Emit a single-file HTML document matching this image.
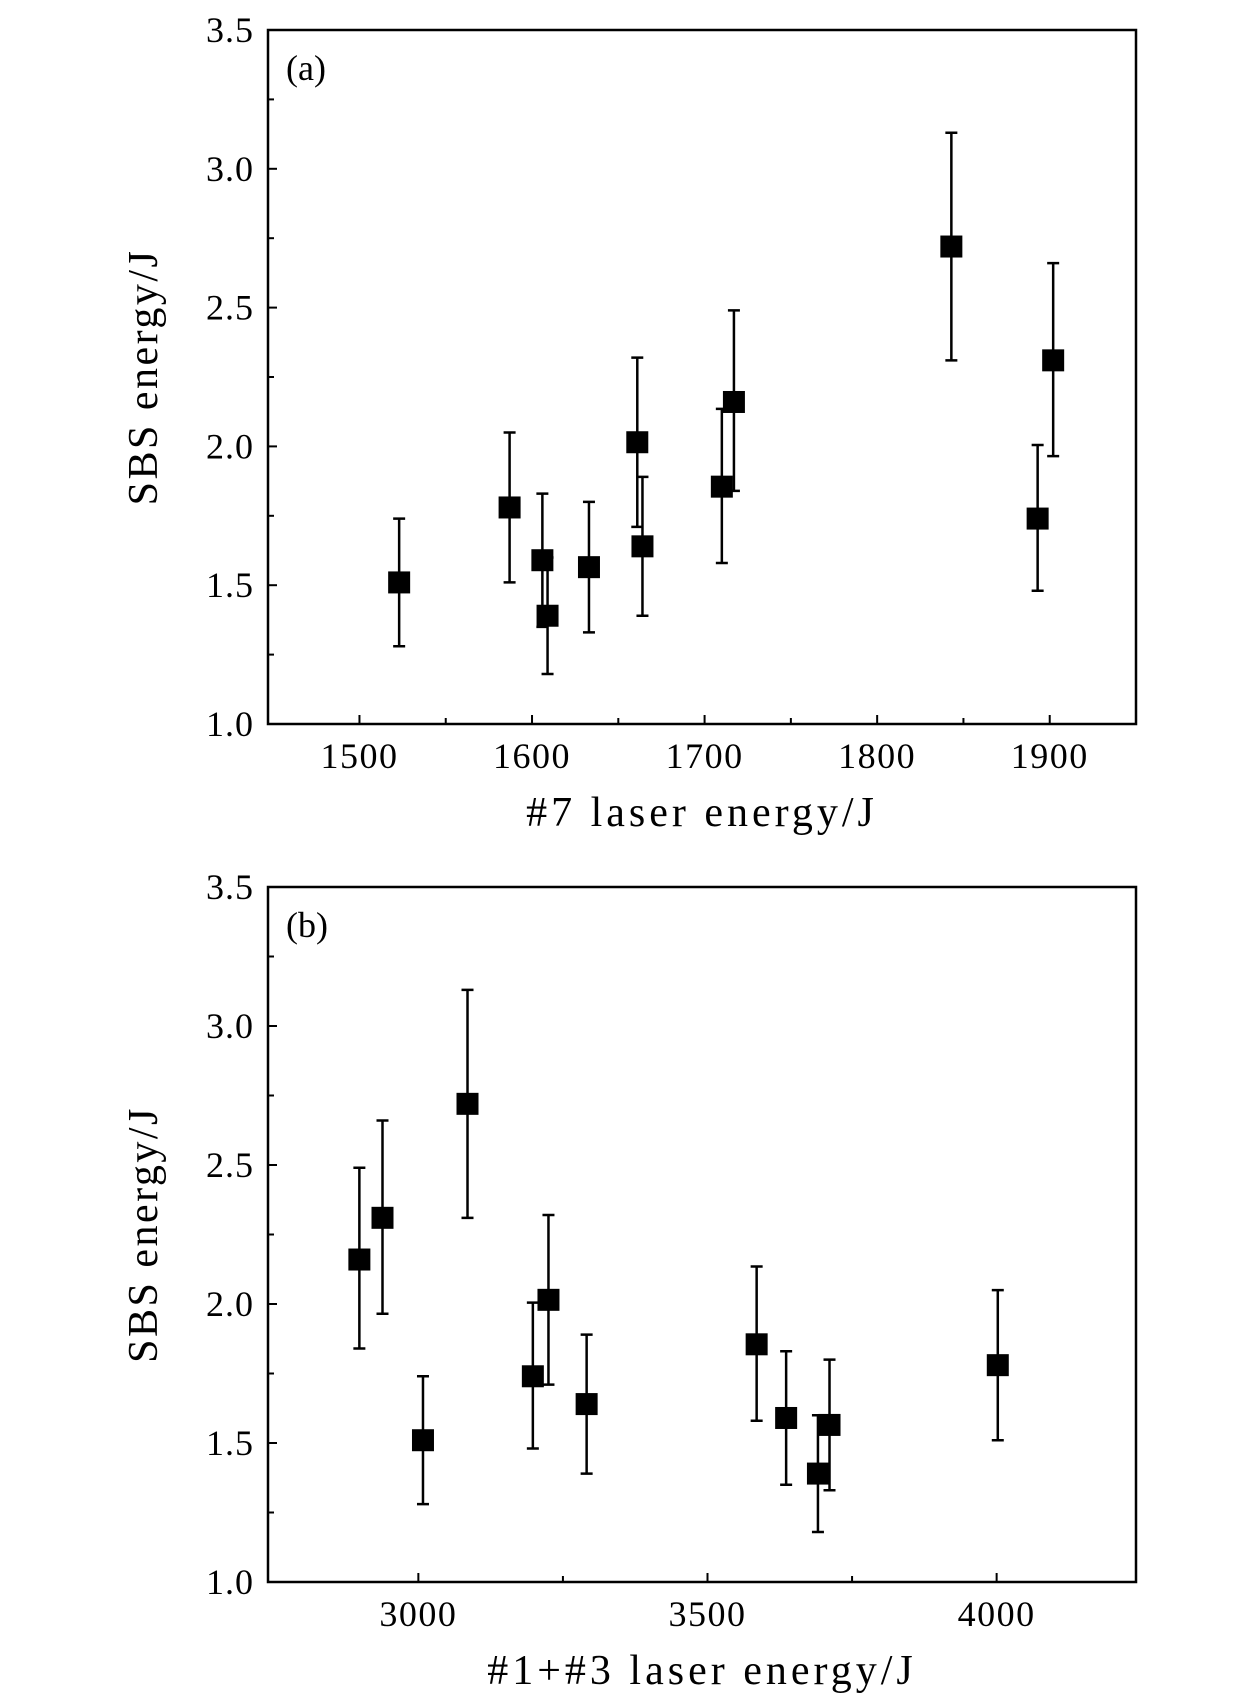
<!DOCTYPE html>
<html><head><meta charset="utf-8"><style>
html,body{margin:0;padding:0;background:#fff}
svg{display:block}
text{font-family:"Liberation Serif","DejaVu Serif",serif;fill:#000}
</style></head><body>
<svg id="chart" width="1260" height="1701" viewBox="0 0 1260 1701" xmlns="http://www.w3.org/2000/svg"></svg>
<script>
const yTicks=[1.0,1.5,2.0,2.5,3.0,3.5];
const yTickLabels=["1.0","1.5","2.0","2.5","3.0","3.5"];
const sbsValues=[1.51,1.78,1.59,1.39,1.565,2.015,1.64,1.855,2.16,2.72,1.74,2.31];
const errLow=[1.28,1.51,1.35,1.18,1.33,1.71,1.39,1.58,1.84,2.31,1.48,1.965];
const errHigh=[1.74,2.05,1.83,1.60,1.80,2.32,1.89,2.135,2.49,3.13,2.005,2.66];
const laser7=[1523,1587,1606,1609,1633,1661,1664,1710,1717,1843,1893,1902];
const xTicksA=[1500,1600,1700,1800,1900];
const xTickLabelsA=["1500","1600","1700","1800","1900"];
const laser13=[3008,4002,3636,3691,3711,3225,3291,3585,2898,3085,3198,2938];
const xTicksB=[3000,3500,4000];
const xTickLabelsB=["3000","3500","4000"];

const svg=document.getElementById('chart');
const NS='http://www.w3.org/2000/svg';
function mk(tag,attrs,parent){const e=document.createElementNS(NS,tag);for(const k in attrs)e.setAttribute(k,attrs[k]);(parent||svg).appendChild(e);return e;}

function panel(cfg){
  const g=mk('g',{});
  
  
  const L=268,R=1136,T=cfg.top,B=cfg.bottom;
  const xs=v=>L+(v-cfg.xmin)/(cfg.xmax-cfg.xmin)*(R-L);
  const ys=v=>B-(v-1.0)/(3.5-1.0)*(B-T);
  const frame=mk('rect',{x:L,y:T,width:R-L,height:B-T,fill:'none',stroke:'#000','stroke-width':2.5},g);
  
  
  for(let v=1.0;v<=3.5001;v+=0.25){
    const major=Math.abs(v*2-Math.round(v*2))<1e-6;
    const t=mk('line',{x1:L,x2:L+(major?9:6),y1:ys(v),y2:ys(v),stroke:'#000','stroke-width':2},g);
    
    
  }
  yTicks.forEach((v,i)=>{
    const t=mk('text',{x:254,y:ys(v)+12,'font-size':36,'letter-spacing':1,'text-anchor':'end'},g);
    t.textContent=yTickLabels[i];
    
    
  });
  for(let v=Math.ceil(cfg.xmin/cfg.minor)*cfg.minor;v<=cfg.xmax;v+=cfg.minor){
    const px=xs(v);
    if(px<L+8||px>R-8)continue;
    const major=cfg.ticks.includes(v);
    const t=mk('line',{x1:px,x2:px,y1:B,y2:B-(major?9:6),stroke:'#000','stroke-width':2},g);
    
    
  }
  cfg.ticks.forEach((v,i)=>{
    const t=mk('text',{x:xs(v),y:B+44,'font-size':36,'letter-spacing':1.5,'text-anchor':'middle'},g);
    t.textContent=cfg.tickLabels[i];
    
    
  });
  const xt=mk('text',{x:(L+R)/2,y:B+102,'font-size':42,'letter-spacing':4,'text-anchor':'middle'},g);
  xt.textContent=cfg.xtitle;
  
  
  const cy=(T+B)/2;
  const yt=mk('text',{x:157,y:cy,'font-size':42,'letter-spacing':2.5,'text-anchor':'middle',transform:`rotate(-90 157 ${cy})`},g);
  yt.textContent='SBS energy/J';
  
  
  const pl=mk('text',{x:286,y:T+50,'font-size':36},g);
  pl.textContent=cfg.label;
  
  
  cfg.xs.forEach((xv,i)=>{
    const px=xs(xv);
    const pg=mk('g',{},g);
    
    
    const eb=mk('path',{d:`M${px},${ys(errLow[i])}V${ys(errHigh[i])}M${px-6},${ys(errLow[i])}H${px+6}M${px-6},${ys(errHigh[i])}H${px+6}`,stroke:'#000','stroke-width':2.5,fill:'none'},pg);
    
    
    const m=mk('rect',{x:px-11,y:ys(sbsValues[i])-11,width:22,height:22,fill:'#000'},pg);
    
    
  });
}
panel({name:'panel-a',top:30,bottom:724,xmin:1447,xmax:1950,minor:50,ticks:xTicksA,tickLabels:xTickLabelsA,xs:laser7,xtitle:'#7 laser energy/J',label:'(a)'});
panel({name:'panel-b',top:887,bottom:1582,xmin:2740,xmax:4241,minor:250,ticks:xTicksB,tickLabels:xTickLabelsB,xs:laser13,xtitle:'#1+#3 laser energy/J',label:'(b)'});
</script>
</body></html>
